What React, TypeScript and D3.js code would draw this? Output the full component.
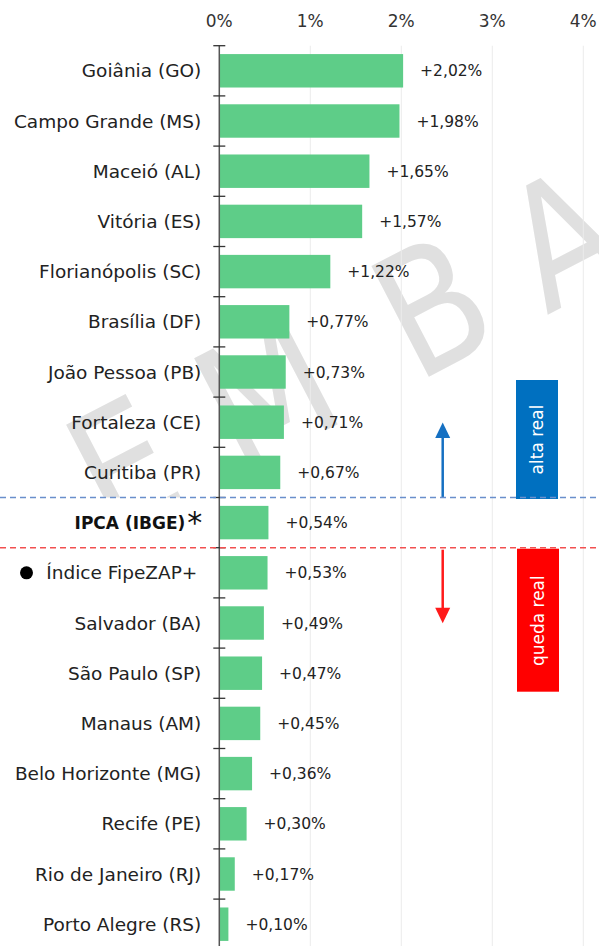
import React from 'react';
import * as d3 from 'd3';

const categories = [
  'Goiânia (GO)',
  'Campo Grande (MS)',
  'Maceió (AL)',
  'Vitória (ES)',
  'Florianópolis (SC)',
  'Brasília (DF)',
  'João Pessoa (PB)',
  'Fortaleza (CE)',
  'Curitiba (PR)',
  'IPCA (IBGE)',
  'Índice FipeZAP+',
  'Salvador (BA)',
  'São Paulo (SP)',
  'Manaus (AM)',
  'Belo Horizonte (MG)',
  'Recife (PE)',
  'Rio de Janeiro (RJ)',
  'Porto Alegre (RS)',
];
const values = [2.02, 1.98, 1.65, 1.57, 1.22, 0.77, 0.73, 0.71, 0.67, 0.54, 0.53, 0.49, 0.47, 0.45, 0.36, 0.3, 0.17, 0.1];
const tickValues = [0, 1, 2, 3, 4];
const highlightCategory = 'IPCA (IBGE)';
const bulletCategory = 'Índice FipeZAP+';
const upLabel = 'alta real';
const downLabel = 'queda real';
const watermark = 'EMBA';
const watermarkCenters = [37, 198, 385, 532];

const W = 599;
const H = 946;
const FONT = '"DejaVu Sans", Verdana, sans-serif';
const BAR = '#5ecd88';
const BLUE = '#0070c0';
const RED = '#ff0000';

export default function App() {
  const x = d3.scaleLinear().domain([0, 4]).range([219.3, 583.3]);
  const y = d3
    .scaleBand<string>()
    .domain(categories)
    .range([45.7, 45.7 + categories.length * 50.2])
    .paddingInner(0.334)
    .paddingOuter(0.167);
  const step = y.step();
  const y0 = y.range()[0];
  const boundaries = d3.range(categories.length + 1).map((i) => y0 + i * step);
  const fmt = (v: number) => '+' + v.toFixed(2).replace('.', ',') + '%';
  const bw = y.bandwidth();

  const ipcaTop = (y(highlightCategory) as number) - (y.paddingInner() * step) / 2;
  const ipcaBottom = ipcaTop + step;
  const arrowX = x(2.455);
  const labelRight = x(0) - 18;
  const wmScale = 0.85;

  return (
    <svg
      width={W}
      height={H}
      style={{ position: 'absolute', left: 0, top: 0, background: '#fff' }}
      fontFamily={FONT}
    >
      <rect x={0} y={0} width={W} height={H} fill="#fff" />
      {/* watermark */}
      <g transform="translate(119,538) rotate(-27.5)">
        <text
          x={watermarkCenters.map((c) => c / wmScale).join(' ')}
          y={0}
          transform={`scale(${wmScale},1)`}
          textAnchor="middle"
          fontSize={171}
          fill="#e0e0e0"
        >
          {watermark}
        </text>
      </g>
      {/* white band behind reference row */}
      <rect x={0} y={ipcaTop} width={W} height={step} fill="#fff" />

      {/* gridlines */}
      {tickValues.slice(1).map((t) => (
        <line key={t} x1={x(t)} x2={x(t)} y1={y0} y2={H} stroke="#ececec" strokeWidth={1} />
      ))}

      {/* top tick labels */}
      {tickValues.map((t) => (
        <text key={t} x={x(t)} y={27} textAnchor="middle" fontSize={17} fill="#333">
          {t + '%'}
        </text>
      ))}

      {/* bars */}
      {categories.map((c, i) => (
        <rect key={c} x={x(0)} y={y(c)} width={x(values[i]) - x(0)} height={bw} fill={BAR} />
      ))}

      {/* value labels */}
      {categories.map((c, i) => (
        <text
          key={c}
          x={x(values[i]) + 17}
          y={(y(c) as number) + bw / 2}
          dy="0.36em"
          fontSize={15.5}
          fill="#222"
        >
          {fmt(values[i])}
        </text>
      ))}

      {/* category labels */}
      {categories.map((c) => {
        const cy = (y(c) as number) + bw / 2;
        if (c === highlightCategory) {
          return (
            <g key={c}>
              <text x={labelRight - 16} y={cy} dy="0.36em" textAnchor="end" fontSize={17} fontWeight="bold" fill="#111">
                {c}
              </text>
              <text x={labelRight - 14} y={cy} dy="0.33em" fontSize={30} fill="#111">
                *
              </text>
            </g>
          );
        }
        if (c === bulletCategory) {
          return (
            <g key={c}>
              <circle cx={26.5} cy={cy} r={6.5} fill="#000" />
              <text x={labelRight - 4} y={cy} dy="0.36em" textAnchor="end" fontSize={18.5} fill="#222">
                {c}
              </text>
            </g>
          );
        }
        return (
          <text key={c} x={labelRight} y={cy} dy="0.36em" textAnchor="end" fontSize={18.5} fill="#222">
            {c}
          </text>
        );
      })}

      {/* axis */}
      <line x1={x(0)} x2={x(0)} y1={y0} y2={H} stroke="#555" strokeWidth={1.5} />
      {boundaries.map((b, i) => (
        <line key={i} x1={x(0) - 6} x2={x(0) + 6} y1={b} y2={b} stroke="#333" strokeWidth={1.3} />
      ))}

      {/* annotation boxes */}
      <rect x={516} y={ipcaTop - 117.5} width={42} height={119} fill={BLUE} />
      <text
        transform={`translate(${537 + 6},${ipcaTop - 58}) rotate(-90)`}
        textAnchor="middle"
        fontSize={17}
        fill="#fff"
      >
        {upLabel}
      </text>
      <rect x={517} y={ipcaBottom + 1} width={42} height={143} fill={RED} />
      <text
        transform={`translate(${538 + 6},${ipcaBottom + 73}) rotate(-90)`}
        textAnchor="middle"
        fontSize={17}
        fill="#fff"
      >
        {downLabel}
      </text>

      {/* arrows */}
      <line x1={arrowX} x2={arrowX} y1={ipcaTop} y2={ipcaTop - 60} stroke="#1570c2" strokeWidth={2.5} />
      <path
        d={`M${arrowX - 7.5},${ipcaTop - 59.5} L${arrowX + 7.5},${ipcaTop - 59.5} L${arrowX},${ipcaTop - 75} Z`}
        fill="#1570c2"
      />
      <line x1={arrowX} x2={arrowX} y1={ipcaBottom + 2} y2={ipcaBottom + 61} stroke="#ff1a1a" strokeWidth={2.5} />
      <path
        d={`M${arrowX - 7.5},${ipcaBottom + 60} L${arrowX + 7.5},${ipcaBottom + 60} L${arrowX},${ipcaBottom + 75.5} Z`}
        fill="#ff1a1a"
      />

      {/* dashed reference lines */}
      <line x1={0} x2={W} y1={ipcaTop} y2={ipcaTop} stroke="#6a8fcc" strokeWidth={1.4} strokeDasharray="6,4" />
      <line x1={0} x2={W} y1={ipcaBottom} y2={ipcaBottom} stroke="#f25050" strokeWidth={1.4} strokeDasharray="6,4" />
    </svg>
  );
}
